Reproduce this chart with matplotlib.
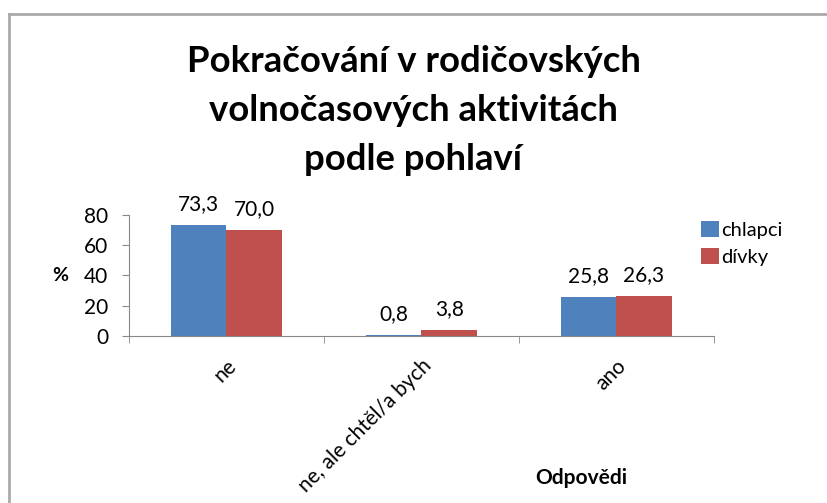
import matplotlib
matplotlib.use("Agg")
import matplotlib.pyplot as plt
import numpy as np
from matplotlib.lines import Line2D

categories = ["ne", "ne, ale chtěl/a bych", "ano"]
chlapci = [73.3, 0.8, 25.8]
divky = [70.0, 3.8, 26.3]
series_names = ["chlapci", "dívky"]
yticks = [0, 20, 40, 60, 80]
title = "Pokračování v rodičovských\nvolnočasových aktivitách\npodle pohlaví"

plt.rcParams['font.family'] = ['Lato', 'DejaVu Sans']

fig = plt.figure(figsize=(8.27, 5.03), dpi=100)
ax = fig.add_axes([0.156, 0.332, 0.707, 0.241])

x = np.arange(len(categories))
w = 0.285
b1 = ax.bar(x - w/2, chlapci, w, color="#4F81BD", label=series_names[0])
b2 = ax.bar(x + w/2, divky, w, color="#C0504D", label=series_names[1])

for bars, vals in ((b1, chlapci), (b2, divky)):
    for r, v in zip(bars, vals):
        ax.annotate(f"{v:.1f}".replace(".", ","), (r.get_x() + r.get_width()/2, v),
                    xytext=(0, 8), textcoords="offset points",
                    ha="center", va="bottom", fontsize=15)

ax.set_xlim(-0.5, len(categories) - 0.5)
ax.set_ylim(0, 80)
ax.set_yticks(yticks)
ax.tick_params(axis="y", direction="out", length=5, color="#888888", labelsize=15, pad=10)
ax.set_xticks(x)
ax.set_xticklabels(categories, rotation=45, ha="right", rotation_mode="anchor", fontsize=15)
ax.tick_params(axis="x", which="major", length=0, pad=14)
ax.set_xticks(np.arange(-0.5, len(categories)), minor=True)
ax.tick_params(axis="x", which="minor", direction="out", length=5, color="#888888")

for s in ("top", "right"):
    ax.spines[s].set_visible(False)
for s in ("left", "bottom"):
    ax.spines[s].set_color("#888888")

ax.set_ylabel("%", rotation=0, fontsize=14, fontweight="bold", labelpad=17, va="center")
fig.text(0.703, 0.05, "Odpovědi", ha="center", va="center", fontsize=15, fontweight="bold")

fig.text(0.5, 0.78, title, ha="center", va="center", fontsize=26.3, fontweight="bold", linespacing=1.6)

ax.legend(loc="upper left", bbox_to_anchor=(0.836, 0.58), bbox_transform=fig.transFigure,
          frameon=False, fontsize=14.5, handlelength=0.85, handleheight=0.85, handletextpad=0.15,
          borderpad=0, labelspacing=0.45)

# outer frame
fig.add_artist(Line2D([0.0105, 0.0105], [0.0, 0.973], transform=fig.transFigure, color="#AAAAAA", lw=2))
fig.add_artist(Line2D([0.0105, 1.0], [0.973, 0.973], transform=fig.transFigure, color="#AAAAAA", lw=2))

fig.savefig("out.png", dpi=100)
